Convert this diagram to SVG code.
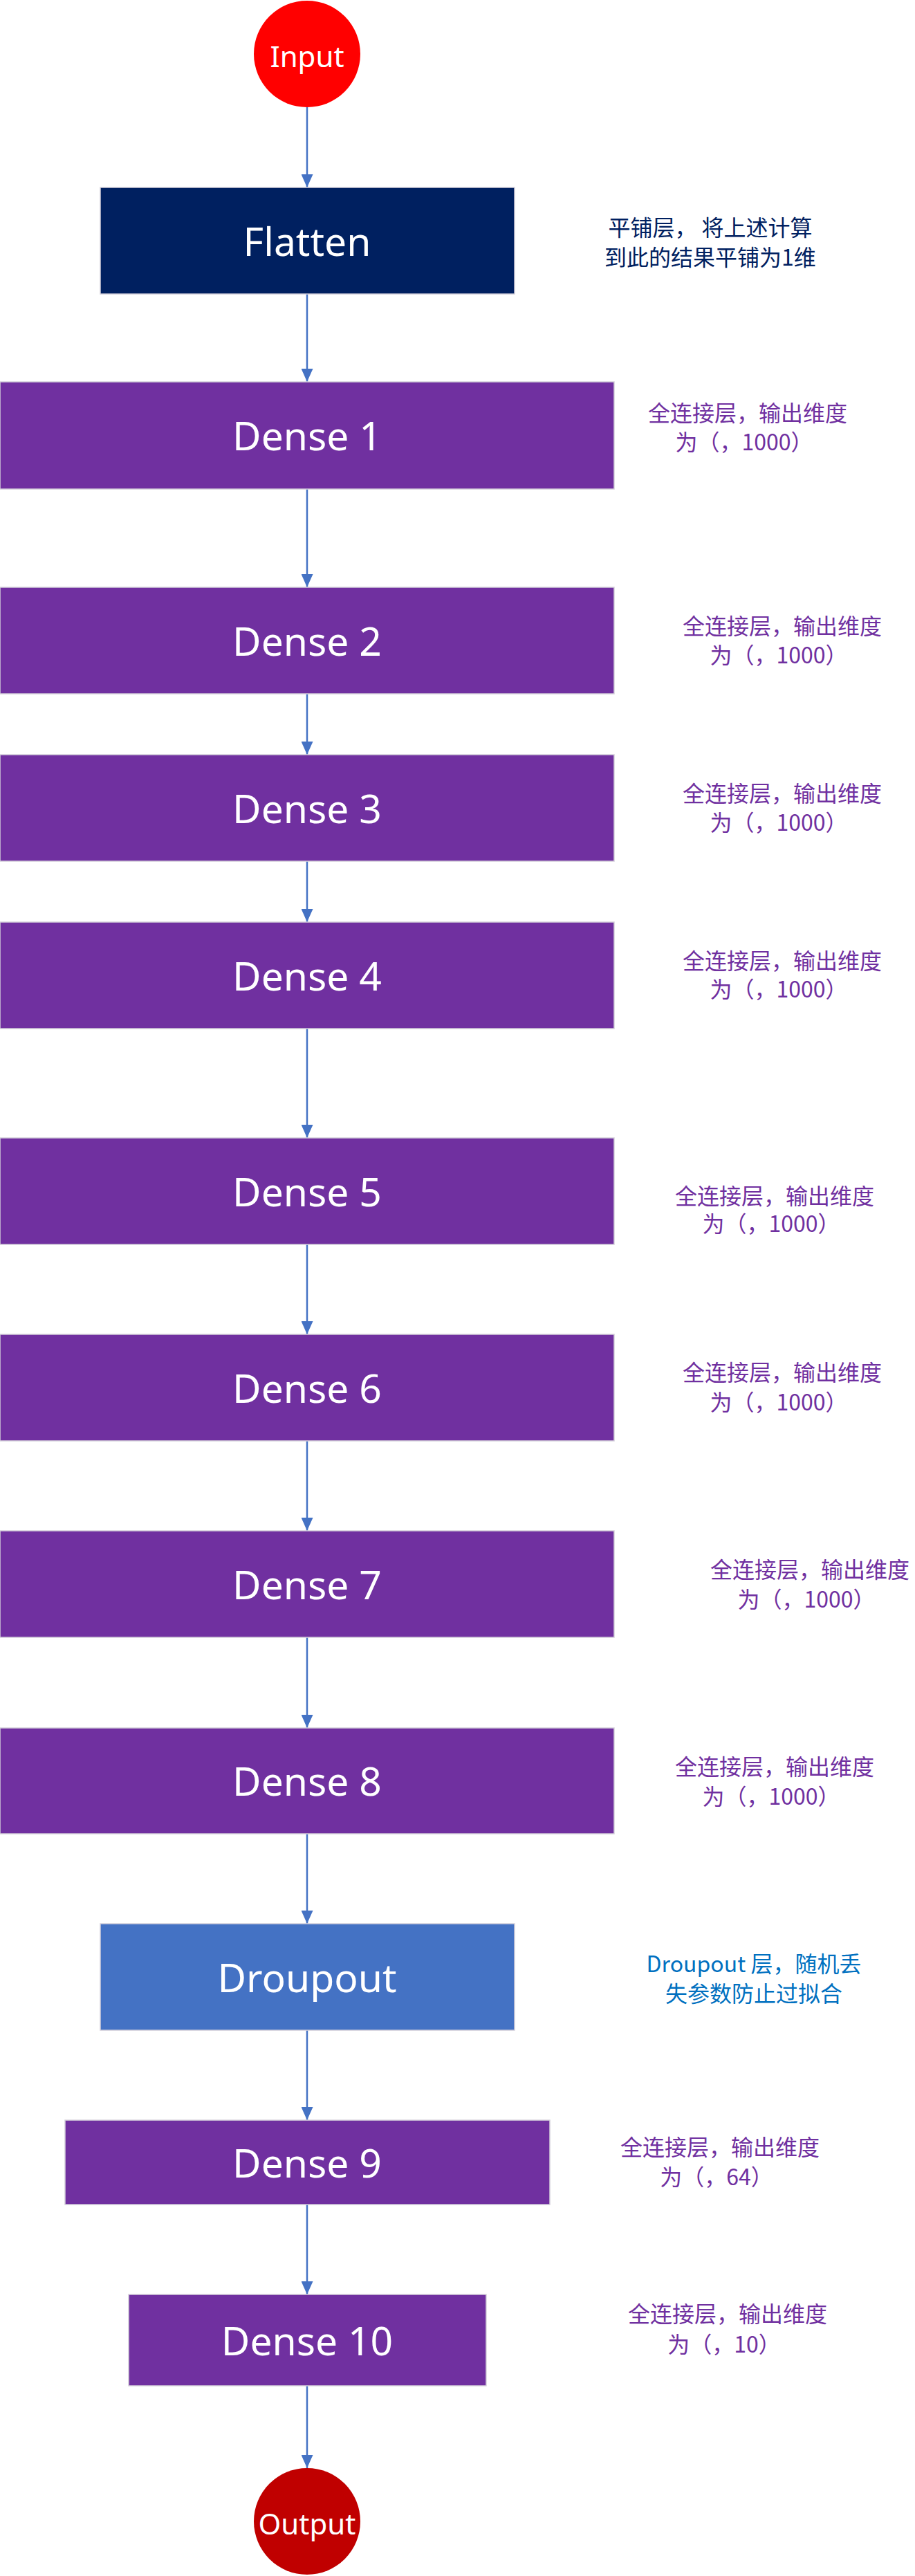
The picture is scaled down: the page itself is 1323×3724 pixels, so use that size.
<svg xmlns="http://www.w3.org/2000/svg" width="1323" height="3724" viewBox="0 0 1323 3724">
<defs>
<style>
.box{stroke:#D4CFDA;stroke-width:1.5}
.dense{fill:#7030A0}
.lbl{font-family:"Noto Sans","Noto Sans CJK SC",sans-serif;fill:#FFFFFF;text-anchor:middle;dominant-baseline:central}
.big{font-size:57px}
.note{font-family:"Noto Sans CJK SC","Noto Sans",sans-serif;font-size:32px;text-anchor:middle;dominant-baseline:central}
.np{fill:#7030A0}
.conn{stroke:#4472C4;stroke-width:2.5;fill:none;marker-end:url(#arr)}
</style>
<marker id="arr" markerUnits="userSpaceOnUse" markerWidth="19" markerHeight="17" viewBox="0 0 19 17" refX="19" refY="8.5" orient="auto">
<path d="M0,0 L19,8.5 L0,17 z" fill="#4472C4"/>
</marker>
</defs>
<rect width="1323" height="3724" fill="#FFFFFF"/>
<g id="connectors">
<line class="conn" x1="444" y1="155" x2="444" y2="271"/>
<line class="conn" x1="444" y1="425" x2="444" y2="552"/>
<line class="conn" x1="444" y1="707" x2="444" y2="849"/>
<line class="conn" x1="444" y1="1003" x2="444" y2="1091"/>
<line class="conn" x1="444" y1="1245" x2="444" y2="1333"/>
<line class="conn" x1="444" y1="1487" x2="444" y2="1645"/>
<line class="conn" x1="444" y1="1799" x2="444" y2="1929"/>
<line class="conn" x1="444" y1="2083" x2="444" y2="2213"/>
<line class="conn" x1="444" y1="2367" x2="444" y2="2498"/>
<line class="conn" x1="444" y1="2651" x2="444" y2="2781"/>
<line class="conn" x1="444" y1="2935" x2="444" y2="3065"/>
<line class="conn" x1="444" y1="3187" x2="444" y2="3317"/>
<line class="conn" x1="444" y1="3449" x2="444" y2="3568"/>
</g>
<g id="input">
<circle cx="444" cy="78" r="77" fill="#FF0000"/>
<text class="lbl" x="444" y="80" font-size="42">Input</text>
</g>
<g id="flatten">
<rect class="box" x="145" y="271" width="599" height="154" fill="#002060"/>
<text class="lbl big" x="444" y="348">Flatten</text>
<text class="note" x="1027" y="327" fill="#002060" xml:space="preserve">平铺层， 将上述计算</text>
<text class="note" x="1027" y="370" fill="#002060">到此的结果平铺为1维</text>
</g>
<g id="dense1">
<rect class="box dense" x="0" y="552" width="888" height="155"/>
<text class="lbl big" x="444" y="629">Dense 1</text>
<text class="note np" x="1081" y="595">全连接层，输出维度</text>
<text class="note np" x="1076" y="637">为（，1000）</text>
</g>
<g id="dense2">
<rect class="box dense" x="0" y="849" width="888" height="154"/>
<text class="lbl big" x="444" y="926">Dense 2</text>
<text class="note np" x="1131" y="903">全连接层，输出维度</text>
<text class="note np" x="1126" y="945">为（，1000）</text>
</g>
<g id="dense3">
<rect class="box dense" x="0" y="1091" width="888" height="154"/>
<text class="lbl big" x="444" y="1168">Dense 3</text>
<text class="note np" x="1131" y="1145">全连接层，输出维度</text>
<text class="note np" x="1126" y="1187">为（，1000）</text>
</g>
<g id="dense4">
<rect class="box dense" x="0" y="1333" width="888" height="154"/>
<text class="lbl big" x="444" y="1410">Dense 4</text>
<text class="note np" x="1131" y="1387">全连接层，输出维度</text>
<text class="note np" x="1126" y="1428">为（，1000）</text>
</g>
<g id="dense5">
<rect class="box dense" x="0" y="1645" width="888" height="154"/>
<text class="lbl big" x="444" y="1722">Dense 5</text>
<text class="note np" x="1120" y="1727">全连接层，输出维度</text>
<text class="note np" x="1115" y="1767">为（，1000）</text>
</g>
<g id="dense6">
<rect class="box dense" x="0" y="1929" width="888" height="154"/>
<text class="lbl big" x="444" y="2006">Dense 6</text>
<text class="note np" x="1131" y="1982">全连接层，输出维度</text>
<text class="note np" x="1126" y="2025">为（，1000）</text>
</g>
<g id="dense7">
<rect class="box dense" x="0" y="2213" width="888" height="154"/>
<text class="lbl big" x="444" y="2290">Dense 7</text>
<text class="note np" x="1171" y="2267">全连接层，输出维度</text>
<text class="note np" x="1166" y="2310">为（，1000）</text>
</g>
<g id="dense8">
<rect class="box dense" x="0" y="2498" width="888" height="153"/>
<text class="lbl big" x="444" y="2574">Dense 8</text>
<text class="note np" x="1120" y="2552">全连接层，输出维度</text>
<text class="note np" x="1115" y="2595">为（，1000）</text>
</g>
<g id="dropout">
<rect class="box" x="145" y="2781" width="599" height="154" fill="#4472C4"/>
<text class="lbl big" x="444" y="2858">Droupout</text>
<text class="note" x="1090" y="2837" fill="#0070C0">Droupout 层，随机丢</text>
<text class="note" x="1090" y="2880" fill="#0070C0">失参数防止过拟合</text>
</g>
<g id="dense9">
<rect class="box dense" x="94" y="3065" width="701" height="122"/>
<text class="lbl big" x="444" y="3126">Dense 9</text>
<text class="note np" x="1041" y="3102">全连接层，输出维度</text>
<text class="note np" x="1036" y="3145">为（，64）</text>
</g>
<g id="dense10">
<rect class="box dense" x="186" y="3317" width="517" height="132"/>
<text class="lbl big" x="444" y="3383">Dense 10</text>
<text class="note np" x="1052" y="3343">全连接层，输出维度</text>
<text class="note np" x="1047" y="3387">为（，10）</text>
</g>
<g id="output">
<circle cx="444" cy="3645" r="77" fill="#C00000"/>
<text class="lbl" x="444" y="3647" font-size="42">Output</text>
</g>
</svg>
